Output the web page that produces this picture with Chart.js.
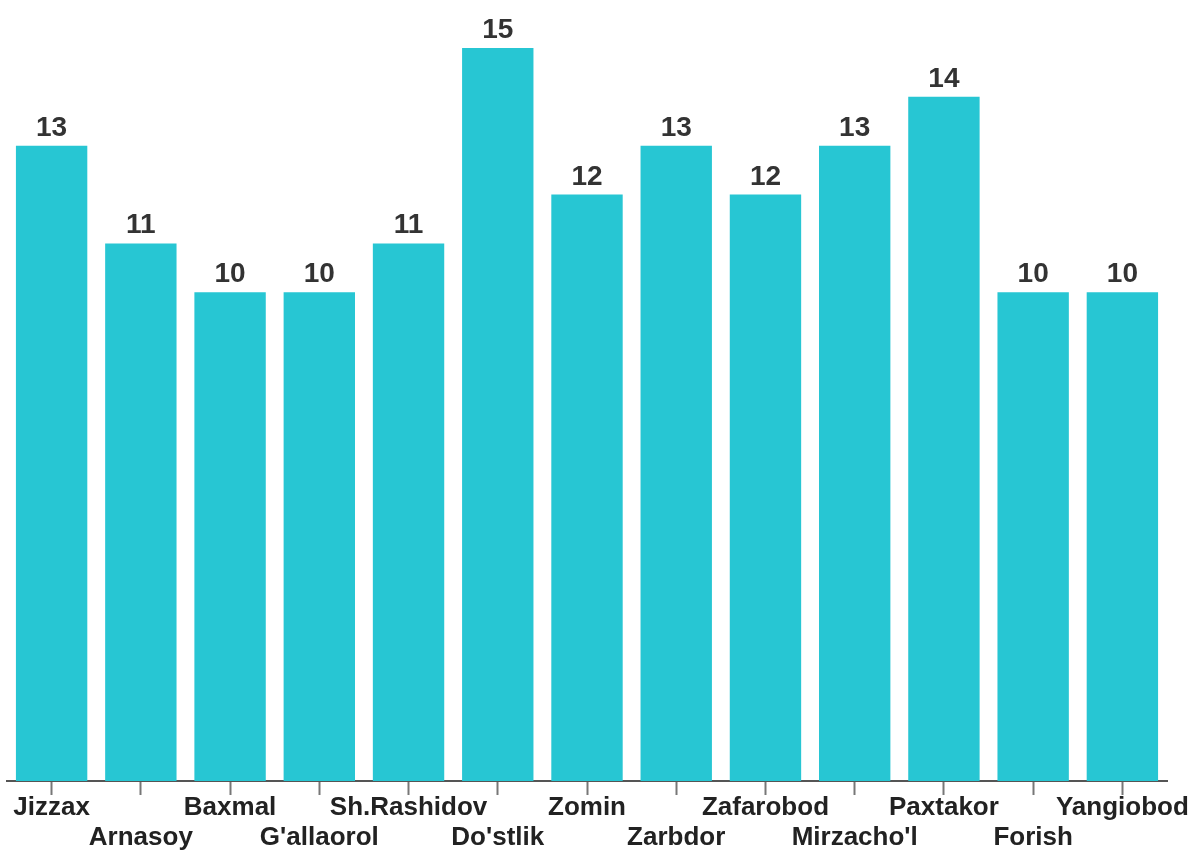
<!DOCTYPE html>
<html>
<head>
<meta charset="utf-8">
<script src="https://cdn.jsdelivr.net/npm/chart.js@4/dist/chart.umd.min.js"></script>
<style>
  html, body { margin: 0; padding: 0; background: #fff; }
  #wrap { width: 1189px; height: 851px; }
</style>
</head>
<body>
<div id="wrap"><canvas id="barChart" width="1189" height="851"></canvas></div>
<script>
const districts = ['Jizzax', 'Arnasoy', 'Baxmal', "G'allaorol", 'Sh.Rashidov', "Do'stlik", 'Zomin',
    'Zarbdor', 'Zafarobod', "Mirzacho'l", 'Paxtakor', 'Forish', 'Yangiobod'];
const counts = [13, 11, 10, 10, 11, 15, 12, 13, 12, 13, 14, 10, 10];

// alternate labels between top and bottom row
const staggered = districts.map((name, i) => i % 2 === 0 ? [name, ''] : ['', name]);

const valueLabels = {
    id: 'valueLabels',
    afterDatasetsDraw(chart) {
        const ctx = chart.ctx;
        const meta = chart.getDatasetMeta(0);
        ctx.save();
        ctx.font = 'bold 28px "Liberation Sans", Arial, sans-serif';
        ctx.fillStyle = '#333';
        ctx.textAlign = 'center';
        ctx.textBaseline = 'alphabetic';
        meta.data.forEach((bar, i) => {
            ctx.fillText(counts[i], bar.x, bar.y - 10);
        });
        ctx.restore();
    }
};

const ctx = document.getElementById('barChart').getContext('2d');
new Chart(ctx, {
    type: 'bar',
    data: {
        labels: staggered,
        datasets: [{
            data: counts,
            backgroundColor: '#27c6d3',
            barPercentage: 0.8,
            categoryPercentage: 1.0
        }]
    },
    options: {
        responsive: false,
        animation: false,
        layout: { padding: { left: 7, right: 22, top: 48, bottom: 0 } },
        plugins: {
            legend: { display: false },
            tooltip: { enabled: false }
        },
        scales: {
            y: {
                display: false,
                min: 0,
                max: 15
            },
            x: {
                grid: {
                    offset: false,
                    drawOnChartArea: false,
                    drawTicks: true,
                    tickLength: 14,
                    tickWidth: 2,
                    tickColor: '#777'
                },
                border: { display: true, color: '#555', width: 2 },
                ticks: {
                    autoSkip: false,
                    maxRotation: 0,
                    minRotation: 0,
                    padding: -2,
                    color: '#222',
                    font: { family: '"Liberation Sans", Arial, sans-serif', size: 26, weight: 'bold', lineHeight: '30px' }
                }
            }
        }
    },
    plugins: [valueLabels]
});
</script>
</body>
</html>
